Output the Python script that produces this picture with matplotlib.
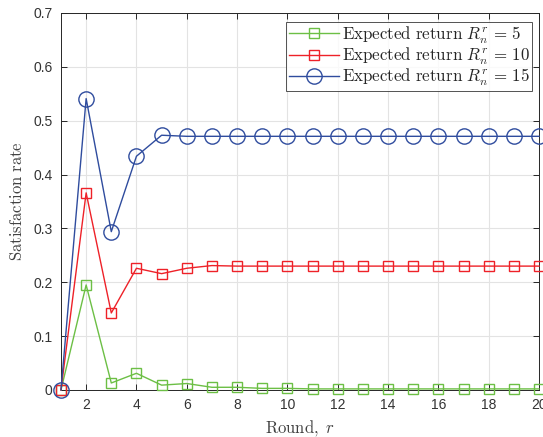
import matplotlib
matplotlib.use("Agg")
import matplotlib.pyplot as plt

rounds = list(range(1, 21))
ret5 = [0, 0.195, 0.013, 0.031, 0.009, 0.012, 0.005, 0.005, 0.003, 0.003,
        0.002, 0.002, 0.002, 0.002, 0.002, 0.002, 0.002, 0.002, 0.002, 0.002]
ret10 = [0, 0.366, 0.143, 0.226, 0.216, 0.226, 0.231, 0.230, 0.230, 0.230,
         0.230, 0.230, 0.230, 0.230, 0.230, 0.230, 0.230, 0.230, 0.230, 0.230]
ret15 = [0, 0.541, 0.294, 0.434, 0.473, 0.471, 0.471, 0.471, 0.471, 0.471,
         0.471, 0.471, 0.471, 0.471, 0.471, 0.471, 0.471, 0.471, 0.471, 0.471]
labels = [r'$\mathrm{Expected\ return}\ R_n^r\,=\,5$',
          r'$\mathrm{Expected\ return}\ R_n^r\,=\,10$',
          r'$\mathrm{Expected\ return}\ R_n^r\,=\,15$']
xticks = [2, 4, 6, 8, 10, 12, 14, 16, 18, 20]
yticks = [0, 0.1, 0.2, 0.3, 0.4, 0.5, 0.6, 0.7]
ytick_labels = ['0', '0.1', '0.2', '0.3', '0.4', '0.5', '0.6', '0.7']

plt.rcParams['mathtext.fontset'] = 'cm'
plt.rcParams['font.family'] = ['Liberation Sans', 'DejaVu Sans']

fig = plt.figure(figsize=(5.43, 4.37), dpi=100)
ax = fig.add_axes([0.1123, 0.1076, 0.9926 - 0.1123, 0.9703 - 0.1076])

green = '#6CBF45'
red = '#EE2128'
blue = '#2F4C9E'

ax.plot(rounds, ret5, color=green, lw=1.0, marker='s', ms=7.5, mfc='none',
        mec=green, mew=1.0, label=labels[0], clip_on=False, zorder=3)
ax.plot(rounds, ret10, color=red, lw=1.0, marker='s', ms=7.5, mfc='none',
        mec=red, mew=1.0, label=labels[1], clip_on=False, zorder=3)
ax.plot(rounds, ret15, color=blue, lw=1.0, marker='o', ms=11, mfc='none',
        mec=blue, mew=1.0, label=labels[2], clip_on=False, zorder=3)

ax.set_xlim(1, 20)
ax.set_ylim(0, 0.7)
ax.set_xticks(xticks)
ax.set_yticks(yticks)
ax.set_yticklabels(ytick_labels)
ax.grid(True, color='#E3E3E3', lw=0.8)
ax.set_axisbelow(True)
ax.tick_params(direction='in', top=True, right=True, length=4, width=0.7,
               colors='#262626', labelsize=10, labelcolor='#333333', pad=6)
for s in ax.spines.values():
    s.set_color('#262626')
    s.set_linewidth(0.7)

ax.set_xlabel(r'$\mathrm{Round},\ r$', fontsize=12, color='#404040', labelpad=4)
ax.set_ylabel(r'$\mathrm{Satisfaction\ rate}$', fontsize=12, color='#404040', labelpad=6)

leg = ax.legend(loc='upper right', bbox_to_anchor=(0.997, 0.99), fontsize=12.2,
                frameon=True, fancybox=False, borderpad=0.15, labelspacing=0.0,
                handlelength=3.0, handletextpad=0.15, borderaxespad=0.3)
leg.get_frame().set_edgecolor('#262626')
leg.get_frame().set_linewidth(0.7)
for t in leg.get_texts():
    t.set_color('#262626')

fig.savefig('out.png', dpi=100)
